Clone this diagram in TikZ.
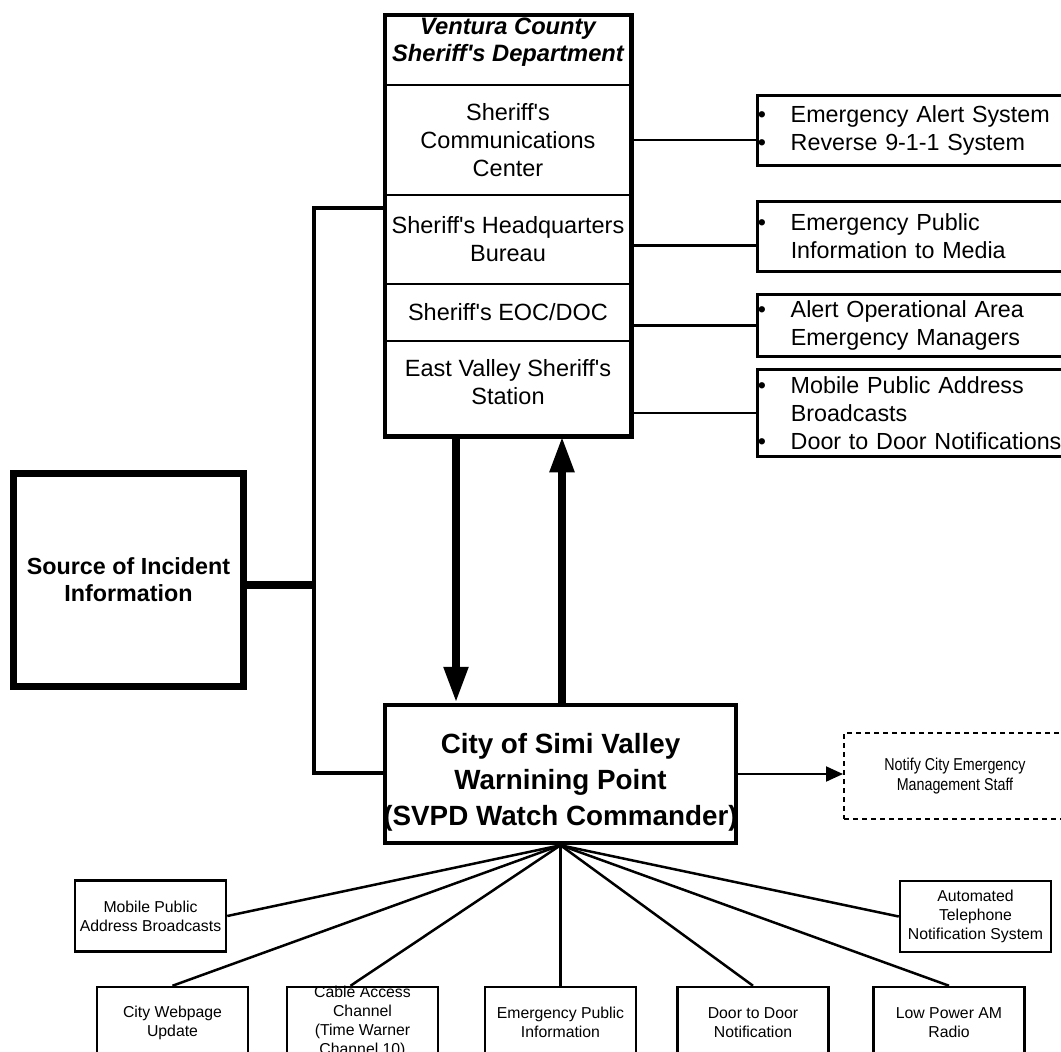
\documentclass[tikz,border=0pt]{standalone}
\usepackage{fontspec}
\newfontfamily\arial{Liberation Sans}
\newfontfamily\narrowfont[FakeStretch=0.83]{Liberation Sans}
\usetikzlibrary{arrows.meta,calc}
\newcommand\mybul{\makebox[33pt][l]{•}}
\begin{document}
\begin{tikzpicture}[x=1pt,y=-1pt,
 every node/.style={font=\arial},
 sect/.style={draw,line width=2.5pt,minimum width=244pt,inner sep=0pt},
 mtxt/.style={font=\arial\fontsize{23.5}{28}\selectfont,align=center,inner sep=0pt},
 rbox/.style={draw,line width=2.5pt,anchor=north west,text width=325pt,inner xsep=0.5pt,inner ysep=0pt,align=left,font=\arial\fontsize{23.3}{28}\selectfont},
 bbox/.style={draw,line width=2.5pt,minimum width=151pt,minimum height=71pt,inner sep=0pt,align=center,font=\arial\fontsize{15.8}{19}\selectfont},
 conn/.style={line width=2.5pt},
 fan/.style={line width=2.5pt},
 bus/.style={line width=3.5pt,line join=miter},
 big/.style={line width=8pt,-{Triangle[width=23pt,length=36pt]}},
]
\useasboundingbox (0,0) rectangle (1061,1052);
\clip (0,0) rectangle (1061,1052);

% Sheriff's department stack
\node[sect,minimum height=69pt] (title) at (508,50.5) {};
\node[font=\arial\bfseries\itshape\fontsize{23.7}{27}\selectfont,align=center,inner sep=0pt] (titletxt) at (508,42) {Ventura County\\Sheriff's Department};
\node[sect,mtxt,minimum height=110pt] (comm) at (508,140) {Sheriff's\\Communications\\Center};
\node[sect,mtxt,minimum height=89pt] (hq) at (508,239.5) {Sheriff's Headquarters\\Bureau};
\node[sect,mtxt,minimum height=57pt] (eoc) at (508,312.5) {Sheriff's EOC/DOC};
\node[sect,minimum height=94pt] (east) at (508,388) {};
\node[mtxt] (easttxt) at (508,382.5) {East Valley Sheriff's\\Station};
\draw[line width=4.5pt] (title.north west) rectangle (east.south east);

% right boxes
\node[rbox,minimum height=70pt] (r1) at (756,94) {\mybul Emergency Alert System\\\mybul Reverse 9-1-1 System};
\node[rbox,minimum height=70pt] (r2) at (756,200) {\mybul Emergency Public\\\hspace*{33pt}Information to Media};
\node[rbox,minimum height=62pt] (r3) at (756,293) {\mybul Alert Operational Area\\\hspace*{33pt}Emergency Managers};
\node[rbox,minimum height=87pt] (r4) at (756,368) {\mybul Mobile Public Address\\\hspace*{33pt}Broadcasts\\\mybul Door to Door Notifications};

\draw[conn] (comm.east) -- (comm.east -| r1.west);
\path (r2.west) ++(0,9) coordinate (k2);
\draw[conn] (k2) -- (k2 -| hq.east);
\draw[conn] (r3.west) -- (r3.west -| eoc.east);
\draw[conn] (r4.west) -- (r4.west -| east.east);

% source
\node[draw,line width=7pt,minimum width=230pt,minimum height=213pt,inner sep=0pt,align=center,font=\arial\bfseries\fontsize{23.3}{27}\selectfont] (source) at (128.5,580) {Source of Incident\\Information};

% city
\node[draw,line width=4.5pt,minimum width=351pt,minimum height=138pt] (city) at (560.5,774) {};
\node[align=center,inner sep=0pt,font=\arial\bfseries\fontsize{27.8}{36}\selectfont] (citytxt) at (560.5,782) {City of Simi Valley\\Warnining Point\\(SVPD Watch Commander)};

% bus
\coordinate (bt) at (314,208);
\coordinate (bb) at (314,773);
\coordinate (bm) at (314,585);
\draw[bus] (bt -| hq.west) -- (bt) -- (bb) -- (bb -| city.west);
\draw[line width=8pt] (bm -| source.east) -- (bm);

% big arrows
\coordinate (ax1) at (456,0);
\coordinate (ax2) at (562,0);
\draw[big] (ax1 |- east.south) -- (ax1 |- city.north);
\draw[big] (ax2 |- city.north) -- (ax2 |- east.south);

% notify
\node[draw,line width=2pt,dash pattern=on 5pt off 4pt,anchor=north west,minimum width=222pt,minimum height=86pt,inner sep=0pt,align=center,font=\narrowfont\fontsize{17.2}{20}\selectfont] (notify) at (843,732) {Notify City Emergency\\Management Staff};
\draw[line width=2pt,-{Triangle[width=15pt,length=17pt]}] (city.east) -- (city.east -| notify.west);

% bottom boxes
\node[bbox] (mpab) at (150.5,916) {Mobile Public\\Address Broadcasts};
\node[bbox] (web) at (172.5,1022.5) {City Webpage\\Update};
\node[bbox] (cable) at (362.5,1022.5) {};
\node[align=center,inner sep=0pt,font=\arial\fontsize{15.8}{19}\selectfont] (cabletxt) at (362.5,1022) {Cable Access\\Channel\\(Time Warner\\Channel 10)};
\node[bbox] (emerg) at (560.5,1022.5) {Emergency Public\\Information};
\node[bbox] (door) at (753,1022.5) {Door to Door\\Notification};
\node[bbox] (low) at (949,1022.5) {Low Power AM\\Radio};
\node[bbox] (auto) at (975.5,916.5) {Automated\\Telephone\\Notification System};

\draw[fan] (city.south) -- (mpab.east);
\draw[fan] (city.south) -- (web.north);
\draw[fan] (city.south) -- ([xshift=-12pt]cable.north);
\draw[fan] (city.south) -- (emerg.north);
\draw[fan] (city.south) -- (door.north);
\draw[fan] (city.south) -- (low.north);
\draw[fan] (city.south) -- (auto.west);
\end{tikzpicture}
\end{document}
